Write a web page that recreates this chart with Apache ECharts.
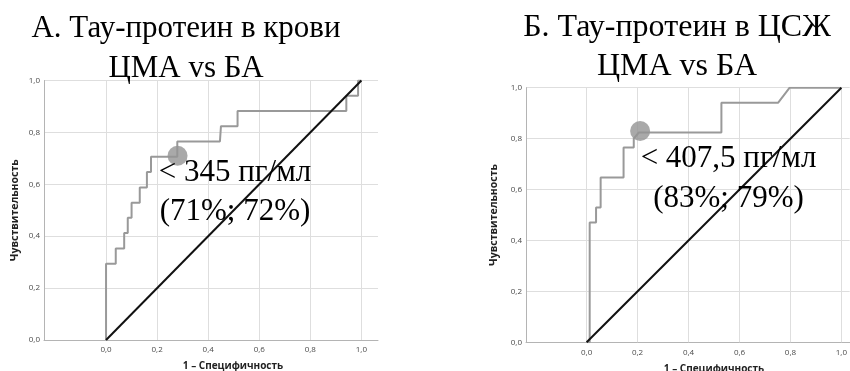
<!DOCTYPE html>
<html>
<head>
<meta charset="utf-8">
<script src="https://cdn.jsdelivr.net/npm/echarts@6/dist/echarts.min.js"></script>
<style>
  html, body { margin: 0; padding: 0; background: #ffffff; }
  #chart { width: 850px; height: 371px; }
</style>
</head>
<body>
<div id="chart"></div>
<script>
// Tick positions shown on the "1 – Specificity" axis
const xTicks = [0, 0.2, 0.4, 0.6, 0.8, 1.0];

// ROC curve, blood tau protein (1 - specificity, sensitivity)
const bloodFpr = [0, 0, 0.038, 0.038, 0.071, 0.071, 0.085, 0.085, 0.100, 0.100, 0.132, 0.132,
                  0.160, 0.160, 0.176, 0.176, 0.279, 0.279, 0.446, 0.450, 0.515, 0.515,
                  0.941, 0.941, 0.987, 0.987, 1.0];
const bloodTpr = [0, 0.294, 0.294, 0.353, 0.353, 0.412, 0.412, 0.471, 0.471, 0.529, 0.529, 0.588,
                  0.588, 0.647, 0.647, 0.706, 0.706, 0.765, 0.765, 0.824, 0.824, 0.882,
                  0.882, 0.941, 0.941, 1.0, 1.0];

// ROC curve, CSF tau protein
const csfFpr = [0, 0.012, 0.012, 0.037, 0.037, 0.055, 0.055, 0.145, 0.145, 0.185, 0.185, 0.205,
                0.529, 0.529, 0.752, 0.797, 1.0];
const csfTpr = [0, 0, 0.471, 0.471, 0.529, 0.529, 0.647, 0.647, 0.765, 0.765, 0.800, 0.824,
                0.824, 0.941, 0.941, 1.0, 1.0];

// Optimal cut-offs: [1 - specificity, sensitivity]
const bloodCutoff = [1 - 0.72, 0.71];
const csfCutoff = [1 - 0.79, 0.83];

const panelTitles = ['А. Тау-протеин в крови\nЦМА vs БА', 'Б. Тау-протеин в ЦСЖ\nЦМА vs БА'];
const cutoffLabels = ['< 345 пг/мл\n(71%; 72%)', '< 407,5 пг/мл\n(83%; 79%)'];
const yName = 'Чувствительность';
const xName = '1 – Специфичность';

const GRID = '#dedede';
const AXIS = '#b4b4b4';
const CURVE = '#999999';
const LABEL_FONT = '"Open Sans", "Noto Sans", sans-serif';
const SERIF = '"Liberation Serif", "Times New Roman", serif';

const zip = (a, b) => a.map((v, i) => [v, b[i]]);
const fmt = v => Number(v).toFixed(1).replace('.', ',');

const grids = [
  { left: 44, top: 80.5, width: 334, height: 259.5 },
  { left: 526, top: 87.7, width: 324, height: 254.6 }
];

function xAxisFor(i, min, max) {
  return {
    type: 'value', gridIndex: i, min: min, max: max,
    splitLine: { show: false },
    axisTick: { show: false },
    axisLine: { show: true, onZero: false, lineStyle: { color: AXIS, width: 1 } },
    axisLabel: {
      customValues: xTicks, formatter: fmt, margin: 6,
      fontSize: 8, color: '#4a4a4a', fontFamily: LABEL_FONT
    }
  };
}

function yAxisFor(i, gap) {
  return {
    type: 'value', gridIndex: i, min: 0, max: 1, interval: 0.2,
    name: yName, nameLocation: 'middle', nameRotate: 90, nameGap: gap,
    nameTextStyle: { fontSize: 10.5, fontWeight: 'bold', color: '#222', fontFamily: LABEL_FONT },
    splitLine: { show: true, lineStyle: { color: GRID, width: 1 } },
    axisTick: { show: false },
    axisLine: { show: true, onZero: false, lineStyle: { color: AXIS, width: 1 } },
    axisLabel: { formatter: fmt, margin: 4, fontSize: 8, color: '#4a4a4a', fontFamily: LABEL_FONT }
  };
}

function panelSeries(i, fpr, tpr, cutoff) {
  return [
    {
      // vertical grid lines at the labelled ticks
      type: 'line', xAxisIndex: i, yAxisIndex: i, data: [], silent: true,
      markLine: {
        z: 1, silent: true, symbol: ['none', 'none'], label: { show: false },
        lineStyle: { color: GRID, type: 'solid', width: 1 },
        emphasis: { disabled: true },
        data: xTicks.map(v => ({ xAxis: v }))
      }
    },
    {
      type: 'line', xAxisIndex: i, yAxisIndex: i, z: 3,
      data: zip(fpr, tpr), symbol: 'none',
      lineStyle: { color: CURVE, width: 2 }
    },
    {
      type: 'line', xAxisIndex: i, yAxisIndex: i, z: 4,
      data: [[0, 0], [1, 1]], symbol: 'none',
      lineStyle: { color: '#111111', width: 2 }
    },
    {
      type: 'scatter', xAxisIndex: i, yAxisIndex: i, z: 5,
      data: [cutoff], symbolSize: 20,
      itemStyle: { color: '#939393' }
    }
  ];
}

function txt(x, y, text, font, lineHeight, valign, fill) {
  return {
    type: 'text', x: x, y: y, z: 10, silent: true,
    style: {
      text: text, font: font, fill: fill || '#000', align: 'center',
      verticalAlign: valign || 'top', lineHeight: lineHeight
    }
  };
}

const chart = echarts.init(document.getElementById('chart'), null, { renderer: 'canvas' });
chart.setOption({
  animation: false,
  backgroundColor: '#ffffff',
  grid: grids,
  xAxis: [xAxisFor(0, -0.243, 1.065), xAxisFor(1, -0.238, 1.0325)],
  yAxis: [yAxisFor(0, 23), yAxisFor(1, 26)],
  series: [].concat(
    panelSeries(0, bloodFpr, bloodTpr, bloodCutoff),
    panelSeries(1, csfFpr, csfTpr, csfCutoff)
  ),
  graphic: [
    txt(186, 9, panelTitles[0], '31px ' + SERIF, 40),
    txt(677, 8, panelTitles[1], '32px ' + SERIF, 39),
    txt(235, 153, cutoffLabels[0], '31px ' + SERIF, 39),
    txt(728.5, 139, cutoffLabels[1], '31px ' + SERIF, 40),
    txt(233, 366, xName, 'bold 10px ' + LABEL_FONT, 12, 'middle', '#222'),
    txt(714, 369, xName, 'bold 10px ' + LABEL_FONT, 12, 'middle', '#222')
  ]
});
</script>
</body>
</html>
